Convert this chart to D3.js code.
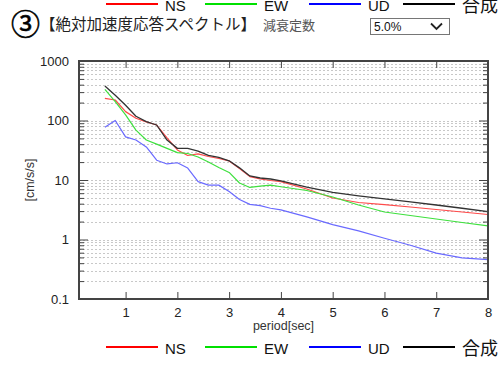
<!DOCTYPE html>
<html>
<head>
<meta charset="utf-8">
<script src="https://cdn.jsdelivr.net/npm/d3@7"></script>
<style>
  html, body { margin: 0; padding: 0; background: #fff; }
  svg { display: block; }
  text { font-family: "Liberation Sans", Arial, sans-serif; }
  .jp { font-family: "Noto Sans CJK JP", sans-serif; }
</style>
</head>
<body>
<svg id="chart" width="501" height="371"></svg>
<script>
// period [sec]
const periods = [0.6, 0.8, 1.0, 1.2, 1.4, 1.6, 1.8, 2.0, 2.2, 2.4, 2.6, 2.8, 3.0, 3.2, 3.4, 3.6, 3.8, 4.0,
  4.5, 5.0, 5.5, 6.0, 6.5, 7.0, 7.5, 8.0];

// absolute acceleration response [cm/s/s]
const ns = [236, 221, 141, 109, 95, 84, 51, 32, 25.8, 27.4, 24.8, 23, 20.9, 15.6, 11.4, 10.4, 9.8, 9.4,
  7.06, 4.98, 4.19, 3.87, 3.52, 3.19, 2.9, 2.63];
const ew = [334, 207, 124, 69, 47, 40, 34, 28.8, 27.9, 24.4, 20.1, 16.2, 13.4, 8.9, 7.5, 7.9, 8.2, 7.7,
  6.66, 5.18, 3.8, 2.9, 2.53, 2.21, 1.93, 1.69];
const ud = [77, 100, 53, 47, 36, 21.5, 18.6, 19.5, 15.9, 9.4, 8.2, 8.2, 6.4, 4.7, 3.9, 3.7, 3.35, 3.15,
  2.4, 1.78, 1.4, 1.05, 0.8, 0.59, 0.49, 0.46];
const total = [380, 265, 180, 118, 96, 84, 47, 34, 34, 30.5, 26, 24, 21, 16, 11.7, 10.8, 10.4, 9.7,
  7.6, 6.2, 5.4, 4.8, 4.3, 3.8, 3.35, 2.95];

const seriesNames = ['NS', 'EW', 'UD', '合成'];
const xTicks = [1, 2, 3, 4, 5, 6, 7, 8];
const yTicks = [0.1, 1, 10, 100, 1000];
const yTickLabels = ['0.1', '1', '10', '100', '1000'];

const lineColors = ['#ff4a4a', '#3ee03e', '#6a6aff', '#333333'];
const legendColors = ['#ff0000', '#00e000', '#0000ff', '#000000'];

const svg = d3.select('#chart');
const plot = {left: 79, right: 488, top: 61, bottom: 299};

const x = d3.scaleLinear().domain([0.1, 8]).range([plot.left, plot.right]);
const y = d3.scaleLog().domain([0.1, 1000]).range([plot.bottom, plot.top]);

// minor values for grid / ticks
const minorVals = [];
yTicks.slice(0, -1).forEach(d => {
  for (let k = 1; k <= 9; k++) minorVals.push(d * k);
});
minorVals.push(1000);

// dotted horizontal grid
svg.append('g')
  .selectAll('line')
  .data(minorVals.filter(v => v > 0.1 && v < 1000))
  .join('line')
    .attr('x1', plot.left).attr('x2', plot.right)
    .attr('y1', d => Math.round(y(d)) + 0.5).attr('y2', d => Math.round(y(d)) + 0.5)
    .attr('stroke', '#c8c8c8')
    .attr('stroke-width', 1)
    .attr('stroke-dasharray', '2,2');

// data lines
const allSeries = [ns, ew, ud, total];
const line = d3.line()
  .x((d, i) => x(periods[i]))
  .y(d => y(d));

svg.append('g')
  .selectAll('path')
  .data(allSeries)
  .join('path')
    .attr('d', line)
    .attr('fill', 'none')
    .attr('stroke', (d, i) => lineColors[i])
    .attr('stroke-width', (d, i) => i === 3 ? 1.3 : 1.2)
    .attr('stroke-linejoin', 'round');

// axes: left with inner ticks, right with inner ticks, bottom/top
const tickFmt = d => {
  const i = yTicks.indexOf(d);
  return i >= 0 ? yTickLabels[i] : '';
};
const axisColor = '#444';

const gLeft = svg.append('g')
  .attr('transform', `translate(${plot.left},0)`)
  .call(d3.axisLeft(y).tickValues(minorVals).tickFormat(tickFmt).tickSize(0).tickPadding(10));
gLeft.selectAll('text').attr('font-size', 13).attr('fill', '#222');
gLeft.select('.domain').remove();
gLeft.selectAll('.tick').append('line')
  .attr('x1', 0)
  .attr('x2', d => yTicks.includes(d) ? 9 : 5)
  .attr('stroke', axisColor).attr('stroke-width', 1);

const gRight = svg.append('g')
  .attr('transform', `translate(${plot.right},0)`)
  .call(d3.axisRight(y).tickValues(minorVals).tickFormat('').tickSize(0));
gRight.select('.domain').remove();
gRight.selectAll('.tick').append('line')
  .attr('x1', 0)
  .attr('x2', d => yTicks.includes(d) ? -9 : -5)
  .attr('stroke', axisColor).attr('stroke-width', 1);

const gBottom = svg.append('g')
  .attr('transform', `translate(0,${plot.bottom})`)
  .call(d3.axisBottom(x).tickValues(xTicks).tickFormat(d3.format('d')).tickSizeInner(-7).tickSizeOuter(0).tickPadding(9));
gBottom.select('.domain').remove();
gBottom.selectAll('line').attr('stroke', axisColor);
gBottom.selectAll('text').attr('font-size', 13).attr('fill', '#222');

const gTop = svg.append('g')
  .attr('transform', `translate(0,${plot.top})`)
  .call(d3.axisTop(x).tickValues(xTicks.slice(0, -1)).tickFormat('').tickSizeInner(-7).tickSizeOuter(0));
gTop.select('.domain').remove();
gTop.selectAll('line').attr('stroke', axisColor);

// frame
svg.append('rect')
  .attr('x', plot.left).attr('y', plot.top)
  .attr('width', plot.right - plot.left).attr('height', plot.bottom - plot.top)
  .attr('fill', 'none').attr('stroke', axisColor).attr('stroke-width', 2);

// axis titles
svg.append('text')
  .attr('x', (plot.left + plot.right) / 2).attr('y', 330)
  .attr('text-anchor', 'middle').attr('font-size', 12.5).attr('fill', '#333')
  .text('period[sec]');

svg.append('text')
  .attr('transform', 'translate(34,180) rotate(-90)')
  .attr('text-anchor', 'middle').attr('font-size', 12.5).attr('fill', '#333')
  .text('[cm/s/s]');

// legends (top one is cut off by the window edge)
const legendX = [106, 205, 309, 403];
function drawLegend(yLine) {
  const g = svg.append('g');
  seriesNames.forEach((name, i) => {
    g.append('line')
      .attr('x1', legendX[i]).attr('x2', legendX[i] + 52)
      .attr('y1', yLine).attr('y2', yLine)
      .attr('stroke', legendColors[i]).attr('stroke-width', 2);
    g.append('text')
      .attr('class', i === 3 ? 'jp' : null)
      .attr('x', legendX[i] + 59)
      .attr('y', yLine + (i === 3 ? 8 : 7))
      .attr('font-size', i === 3 ? 18 : 15)
      .attr('fill', '#111')
      .text(name);
  });
}
drawLegend(4);
drawLegend(347);

// header
svg.append('text')
  .attr('class', 'jp')
  .attr('x', 11).attr('y', 35)
  .attr('font-size', 29).attr('fill', '#000')
  .attr('stroke', '#000').attr('stroke-width', 0.6)
  .text('③');

svg.append('text')
  .attr('class', 'jp')
  .attr('x', 40).attr('y', 30)
  .attr('font-size', 15.5).attr('fill', '#222')
  .text('【絶対加速度応答スペクトル】');

svg.append('text')
  .attr('class', 'jp')
  .attr('x', 263).attr('y', 30)
  .attr('font-size', 13).attr('fill', '#555')
  .text('減衰定数');

// select box
svg.append('rect')
  .attr('x', 370.5).attr('y', 18.5).attr('width', 79).attr('height', 16)
  .attr('fill', '#fff').attr('stroke', '#767676');
svg.append('text')
  .attr('x', 374).attr('y', 31)
  .attr('font-size', 12).attr('fill', '#111')
  .text('5.0%');
svg.append('path')
  .attr('d', 'M431,23.5 L436.5,29 L442,23.5')
  .attr('fill', 'none').attr('stroke', '#222').attr('stroke-width', 1.8);
</script>
</body>
</html>
